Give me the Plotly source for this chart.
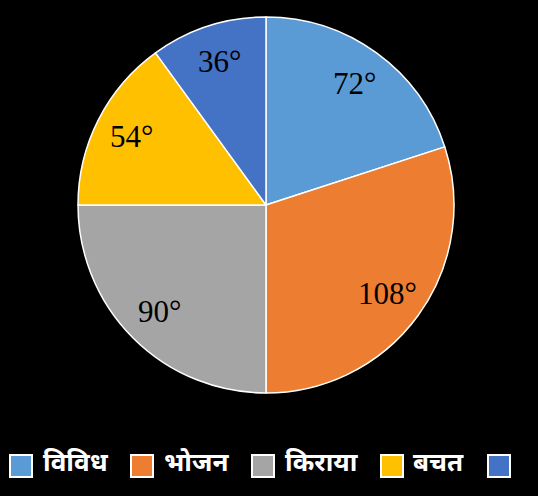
import math
import plotly.graph_objects as go

# Budget shares in degrees
categories = ["विविध", "भोजन", "किराया", "बचत", "शिक्षा"]
degrees = [72, 108, 90, 54, 36]
colors = ["#5B9BD5", "#ED7D31", "#A5A5A5", "#FFC000", "#4472C4"]

W, H = 538, 496
cx, cy, R = 266, 205, 188  # pie centre / radius in pixels (from top-left)

dom_x = [(cx - R) / W, (cx + R) / W]
dom_y = [(H - cy - R) / H, (H - cy + R) / H]

fig = go.Figure(go.Pie(
    labels=categories,
    values=degrees,
    marker=dict(colors=colors, line=dict(color="white", width=1.5)),
    sort=False,
    direction="clockwise",
    rotation=0,
    textinfo="none",
    hoverinfo="label+value",
    domain=dict(x=dom_x, y=dom_y),
    showlegend=False,
))

# degree labels placed inside each slice, at ~0.8 of the radius
total = sum(degrees)
acc = 0
for v in degrees:
    mid = (acc + v / 2) / total * 2 * math.pi
    acc += v
    px = cx + 0.8 * R * math.sin(mid)
    py = cy - 0.8 * R * math.cos(mid)
    fig.add_annotation(
        x=px / W, y=1 - py / H, xref="paper", yref="paper",
        xanchor="center", yanchor="middle",
        text=f"{v}°", showarrow=False,
        font=dict(family="Liberation Serif", size=31, color="black"),
    )

# legend row along the bottom
sq_x = [10, 131, 252, 381, 488]
txt_x = [41, 162, 283, 411]
sq_top, sq_size = 455, 22
for i, c in enumerate(colors):
    x0 = sq_x[i]
    fig.add_shape(
        type="rect", xref="paper", yref="paper",
        x0=x0 / W, x1=(x0 + sq_size) / W,
        y0=1 - (sq_top + sq_size) / H, y1=1 - sq_top / H,
        fillcolor=c, line=dict(color="white", width=2),
    )
for i, t in enumerate(txt_x):
    fig.add_annotation(
        x=t / W, y=1 - (sq_top + sq_size / 2 - 5) / H, xref="paper", yref="paper",
        xanchor="left", yanchor="middle",
        text=f"<b>{categories[i]}</b>", showarrow=False,
        font=dict(family="Noto Sans", size=26, color="white"),
    )

fig.update_layout(
    width=W, height=H,
    margin=dict(l=0, r=0, t=0, b=0),
    paper_bgcolor="black",
    plot_bgcolor="black",
)

fig.write_html("out.html")
